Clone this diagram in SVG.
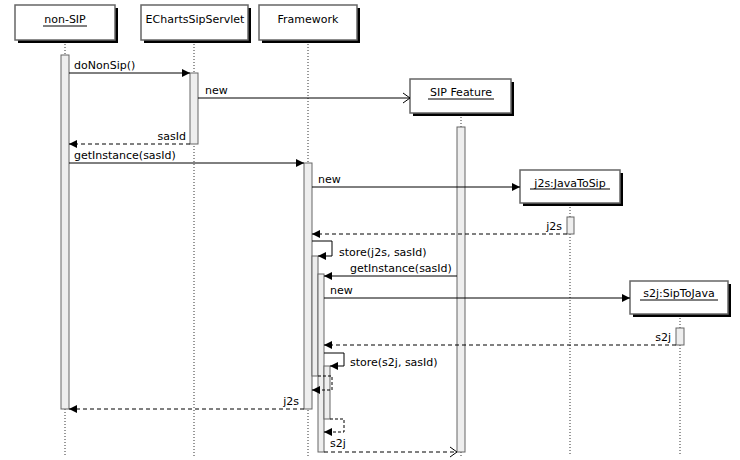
<svg xmlns="http://www.w3.org/2000/svg" width="740" height="460" viewBox="0 0 740 460">
<style>
text{font-family:"DejaVu Sans","Liberation Sans",sans-serif;font-size:11px;fill:#000}
.shadow{fill:#000}
.head{fill:#fff;stroke:#666;stroke-width:1.5}
.life{stroke:#333;stroke-width:1;stroke-dasharray:1,2;fill:none}
.bar{fill:#eee;stroke:#666;stroke-width:1}
.msg{stroke:#000;stroke-width:1;fill:none}
.ret{stroke:#000;stroke-width:1;fill:none;stroke-dasharray:4,3}
.ul{stroke:#000;stroke-width:1}
.mid{text-anchor:middle}
.end{text-anchor:end}
</style>
<defs>
<marker id="fa" markerUnits="userSpaceOnUse" markerWidth="9" markerHeight="10" refX="8" refY="5" orient="auto"><path d="M0,1 L8,5 L0,9 z" fill="#000"/></marker>
<marker id="oa" markerUnits="userSpaceOnUse" markerWidth="10" markerHeight="12" refX="8" refY="6" orient="auto"><path d="M1,1 L8,6 L1,11" fill="none" stroke="#000" stroke-width="1"/></marker>
</defs>
<rect width="740" height="460" fill="#fff"/>

<g id="nonSIP">
<rect class="shadow" x="18" y="8" width="100" height="35"/>
<rect class="head" x="15" y="5" width="100" height="35"/>
<text class="mid" x="65" y="23">non-SIP</text>
<line class="ul" x1="43" y1="26" x2="87" y2="26"/>
<line class="life" x1="65" y1="44" x2="65" y2="55"/>
<line class="life" x1="65" y1="409" x2="65" y2="456"/>
<rect class="bar" x="61" y="55" width="8" height="354"/>
</g>

<g id="EChartsSipServlet">
<rect class="shadow" x="144" y="8" width="107" height="35"/>
<rect class="head" x="141" y="5" width="107" height="35"/>
<text class="mid" x="195" y="23">EChartsSipServlet</text>
<line class="life" x1="194" y1="44" x2="194" y2="456"/>
<rect class="bar" x="190" y="73" width="8" height="71"/>
</g>

<g id="Framework">
<rect class="shadow" x="262" y="8" width="98" height="35"/>
<rect class="head" x="259" y="5" width="98" height="35"/>
<text class="mid" x="308" y="23">Framework</text>
<line class="life" x1="308" y1="44" x2="308" y2="456"/>
<rect class="bar" x="304" y="163" width="8" height="246"/>
<rect class="bar" x="312" y="256" width="6" height="120"/>
<rect class="bar" x="318" y="274" width="6" height="178"/>
<rect class="bar" x="324" y="366" width="6" height="53"/>
</g>

<g id="SIPFeature">
<rect class="shadow" x="413" y="82" width="101" height="34"/>
<rect class="head" x="410" y="79" width="101" height="34"/>
<text class="mid" x="461" y="96">SIP Feature</text>
<line class="ul" x1="428" y1="99" x2="494" y2="99"/>
<line class="life" x1="461" y1="117" x2="461" y2="127"/>
<line class="life" x1="461" y1="452" x2="461" y2="456"/>
<rect class="bar" x="457" y="127" width="8" height="325"/>
</g>

<g id="j2s">
<rect class="shadow" x="523" y="173" width="100" height="33"/>
<rect class="head" x="520" y="170" width="100" height="33"/>
<text class="mid" x="570" y="187">j2s:JavaToSip</text>
<line class="ul" x1="530" y1="189" x2="610" y2="189"/>
<line class="life" x1="570" y1="207" x2="570" y2="456"/>
<rect class="bar" x="567" y="217" width="7" height="17"/>
</g>

<g id="s2j">
<rect class="shadow" x="633" y="284" width="98" height="33"/>
<rect class="head" x="630" y="281" width="98" height="33"/>
<text class="mid" x="679" y="297">s2j:SipToJava</text>
<line class="ul" x1="640" y1="300" x2="718" y2="300"/>
<line class="life" x1="680" y1="318" x2="680" y2="456"/>
<rect class="bar" x="676" y="328" width="8" height="17"/>
</g>

<g id="connectors">
<line class="msg" x1="69" y1="73" x2="190" y2="73" marker-end="url(#fa)"/>
<text x="74" y="69">doNonSip()</text>

<line class="msg" x1="198" y1="98" x2="410" y2="98" marker-end="url(#oa)"/>
<text x="205" y="94">new</text>

<line class="ret" x1="190" y1="144" x2="69" y2="144" marker-end="url(#fa)"/>
<text class="end" x="186" y="140">sasId</text>

<line class="msg" x1="69" y1="163" x2="304" y2="163" marker-end="url(#fa)"/>
<text x="74" y="159">getInstance(sasId)</text>

<line class="msg" x1="312" y1="187" x2="520" y2="187" marker-end="url(#fa)"/>
<text x="318" y="183">new</text>

<line class="ret" x1="567" y1="234" x2="312" y2="234" marker-end="url(#fa)"/>
<text class="end" x="562" y="230">j2s</text>

<polyline class="msg" points="312,241 332,241 332,256 318,256" marker-end="url(#fa)"/>
<text x="339" y="256">store(j2s, sasId)</text>

<line class="msg" x1="457" y1="276" x2="324" y2="276" marker-end="url(#fa)"/>
<text x="350" y="272">getInstance(sasId)</text>

<line class="msg" x1="324" y1="298" x2="630" y2="298" marker-end="url(#fa)"/>
<text x="330" y="294">new</text>

<line class="ret" x1="676" y1="345" x2="324" y2="345" marker-end="url(#fa)"/>
<text class="end" x="671" y="341">s2j</text>

<polyline class="msg" points="324,353 344,353 344,366 330,366" marker-end="url(#fa)"/>
<text x="350" y="366">store(s2j, sasId)</text>

<polyline class="ret" style="stroke-dasharray:3,2" points="318,376 332,376 332,390 312,390" marker-end="url(#fa)"/>

<line class="ret" x1="304" y1="409" x2="69" y2="409" marker-end="url(#fa)"/>
<text class="end" x="299" y="405">j2s</text>

<polyline class="ret" style="stroke-dasharray:3,2" points="330,419 344,419 344,432 324,432" marker-end="url(#fa)"/>

<line class="ret" x1="324" y1="452" x2="457" y2="452" marker-end="url(#oa)"/>
<text x="330" y="447">s2j</text>
</g>
</svg>
